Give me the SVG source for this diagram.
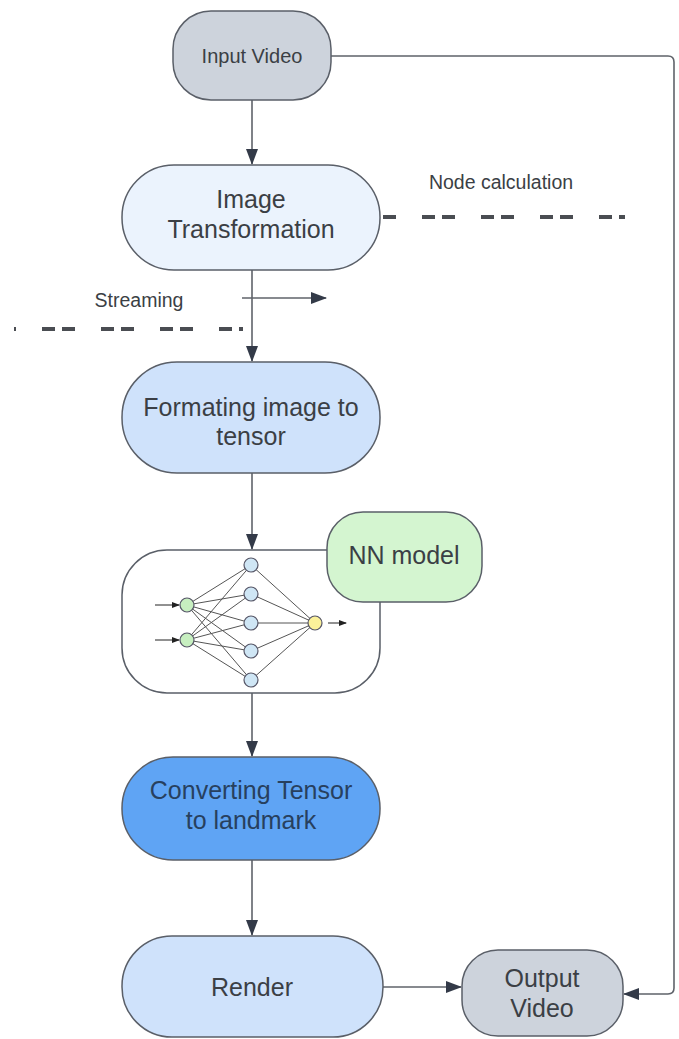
<svg xmlns="http://www.w3.org/2000/svg" width="679" height="1039" viewBox="0 0 679 1039">
<defs>
<marker id="ah" markerWidth="16" markerHeight="12" refX="15" refY="6" orient="auto" markerUnits="userSpaceOnUse">
<path d="M0,0 L16,6 L0,12 z" fill="#333a48"/>
</marker>
<marker id="ahs" markerWidth="8" markerHeight="6" refX="7" refY="3" orient="auto" markerUnits="userSpaceOnUse">
<path d="M0,0 L8,3 L0,6 z" fill="#222"/>
</marker>
<style>
.node{stroke:#5a5f68;stroke-width:1.5}
.t{font-family:"Liberation Sans",Arial,sans-serif;fill:#3b3f45;text-anchor:middle}
.conn{fill:none;stroke:#5f636a;stroke-width:1.6}
.dash{fill:none;stroke:#4a4d52;stroke-width:4;stroke-dasharray:13 7 13 26}
.nn{stroke:#555;stroke-width:1;fill:none}
.hid{fill:#cfe6f5;stroke:#556;stroke-width:1.2}
</style>
</defs>
<rect width="679" height="1039" fill="#ffffff"/>

<g id="connectors">
<path class="conn" d="M252,100 V164" marker-end="url(#ah)"/>
<path class="conn" d="M252,270 V361" marker-end="url(#ah)"/>
<path class="conn" d="M252,473 V549" marker-end="url(#ah)"/>
<path class="conn" d="M252,693 V756" marker-end="url(#ah)"/>
<path class="conn" d="M252,860 V935" marker-end="url(#ah)"/>
<path class="conn" d="M383,987 H461" marker-end="url(#ah)"/>
<path class="conn" d="M331,56 H668 Q674,56 674,62 V988 Q674,994 668,994 H624" marker-end="url(#ah)"/>
<path class="conn" d="M242,298 H326" marker-end="url(#ah)"/>
</g>

<g id="separators">
<path class="dash" d="M382,217 H625" stroke-dashoffset="19"/>
<path class="dash" d="M14,329 H243" stroke-dashoffset="31"/>
<text class="t" x="501" y="189" font-size="19.5">Node calculation</text>
<text class="t" x="139" y="307" font-size="19.5">Streaming</text>
</g>

<g id="input-video">
<rect class="node" x="173" y="11" width="158" height="89" rx="38" fill="#cdd3dc"/>
<text class="t" x="252" y="63" font-size="20">Input Video</text>
</g>

<g id="image-transformation">
<rect class="node" x="122" y="165" width="258" height="105" rx="52" fill="#ebf3fd"/>
<text class="t" x="251" y="208" font-size="25">Image</text>
<text class="t" x="251" y="238" font-size="25">Transformation</text>
</g>

<g id="formating">
<rect class="node" x="122" y="362" width="258" height="111" rx="55" fill="#cfe2fb"/>
<text class="t" x="251" y="416" font-size="25">Formating image to</text>
<text class="t" x="251" y="445" font-size="25">tensor</text>
</g>

<g id="nn-container">
<rect class="node" x="122" y="550" width="258" height="143" rx="45" fill="#ffffff"/>
<g id="nn-graph">
<g class="nn">
<path d="M187,605 L251,565 M187,605 L251,594 M187,605 L251,623 M187,605 L251,651 M187,605 L251,680"/>
<path d="M187,640 L251,565 M187,640 L251,594 M187,640 L251,623 M187,640 L251,651 M187,640 L251,680"/>
<path d="M251,565 L315,623 M251,594 L315,623 M251,623 L315,623 M251,651 L315,623 M251,680 L315,623"/>
</g>
<path d="M155,605 H179" stroke="#222" stroke-width="1" marker-end="url(#ahs)"/>
<path d="M155,640 H179" stroke="#222" stroke-width="1" marker-end="url(#ahs)"/>
<path d="M328,623 H346" stroke="#222" stroke-width="1" marker-end="url(#ahs)"/>
<circle cx="187" cy="605" r="7" fill="#c7efc0" stroke="#556" stroke-width="1.2"/>
<circle cx="187" cy="640" r="7" fill="#c7efc0" stroke="#556" stroke-width="1.2"/>
<circle class="hid" cx="251" cy="565" r="7"/>
<circle class="hid" cx="251" cy="594" r="7"/>
<circle class="hid" cx="251" cy="623" r="7"/>
<circle class="hid" cx="251" cy="651" r="7"/>
<circle class="hid" cx="251" cy="680" r="7"/>
<circle cx="315" cy="623" r="7" fill="#fbf19a" stroke="#556" stroke-width="1.2"/>
</g>
</g>

<g id="nn-model">
<rect class="node" x="327" y="512" width="155" height="90" rx="36" fill="#d4f5d0"/>
<text class="t" x="404" y="564" font-size="25">NN model</text>
</g>

<g id="converting">
<rect class="node" x="122" y="757" width="258" height="103" rx="51" fill="#5fa4f4"/>
<text class="t" x="251" y="799" font-size="25" style="fill:#27405e">Converting Tensor</text>
<text class="t" x="251" y="829" font-size="25" style="fill:#27405e">to landmark</text>
</g>

<g id="render">
<rect class="node" x="122" y="936" width="261" height="101" rx="50" fill="#cfe2fb"/>
<text class="t" x="252" y="996" font-size="25">Render</text>
</g>

<g id="output-video">
<rect class="node" x="462" y="950" width="161" height="86" rx="36" fill="#cdd3dc"/>
<text class="t" x="542" y="987" font-size="25">Output</text>
<text class="t" x="542" y="1017" font-size="25">Video</text>
</g>
</svg>
